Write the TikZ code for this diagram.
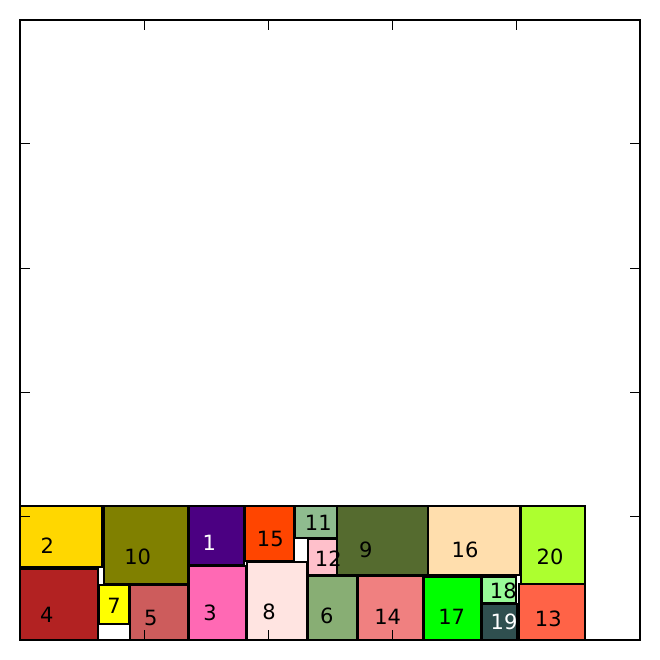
\documentclass[tikz,border=0pt]{standalone}
\usepackage{fontspec}
\setmainfont{DejaVu Sans}
\definecolor{cA}{HTML}{FFD700}
\definecolor{cB}{HTML}{B22222}
\definecolor{cC}{HTML}{808000}
\definecolor{cD}{HTML}{FFFF00}
\definecolor{cE}{HTML}{CD5C5C}
\definecolor{cF}{HTML}{4B0082}
\definecolor{cG}{HTML}{FF69B4}
\definecolor{cH}{HTML}{FF4500}
\definecolor{cI}{HTML}{FFE4E1}
\definecolor{cJ}{HTML}{8FBC8F}
\definecolor{cK}{HTML}{FFC0CB}
\definecolor{cL}{HTML}{88AE74}
\definecolor{cM}{HTML}{556B2F}
\definecolor{cN}{HTML}{F08080}
\definecolor{cO}{HTML}{FFDEAD}
\definecolor{cP}{HTML}{00FF00}
\definecolor{cQ}{HTML}{98FB98}
\definecolor{cR}{HTML}{2F4F4F}
\definecolor{cS}{HTML}{ADFF2F}
\definecolor{cT}{HTML}{FF6347}
\newcommand\rbox[5]{\filldraw[cell,fill=#1] (#2,#3) rectangle (#4,#5);}
\begin{document}
\begin{tikzpicture}[x=1pt,y=-1pt,
  cell/.style={draw=black,line width=1.9pt},
  lab/.style={inner sep=0pt,font=\fontsize{21}{21}\selectfont},
  tick/.style={line width=1pt}]
\useasboundingbox (0,0) rectangle (659,660);
\rbox{cA}{20}{506}{102}{567}
\rbox{cB}{20}{569}{98}{640}
\rbox{cC}{104}{506}{188}{584}
\rbox{cD}{99}{585}{129}{624}
\rbox{cE}{130}{585}{188}{640}
\rbox{cF}{189}{506}{244}{565}
\rbox{cG}{189}{566}{246}{640}
\rbox{cH}{245}{506}{294}{561}
\rbox{cI}{247}{562}{307}{640}
\rbox{cJ}{295}{506}{337}{538}
\rbox{cK}{308}{539}{337}{575}
\rbox{cL}{308}{576}{357}{640}
\rbox{cM}{337}{506}{428}{575}
\rbox{cN}{358}{576}{423}{640}
\rbox{cO}{428}{506}{520}{575}
\rbox{cP}{424}{577}{481}{640}
\rbox{cQ}{482}{577}{516}{603}
\rbox{cR}{482}{604}{517}{640}
\rbox{cS}{521}{506}{585}{584}
\rbox{cT}{519}{584}{585}{640}
% labels
\node[lab] (l2) at (47.3,545.7) {2};
\node[lab] (l10) at (137.7,556.7) {10};
\node[lab] (l4) at (46.7,615) {4};
\node[lab] (l7) at (114,606) {7};
\node[lab] (l5) at (150.7,618.3) {5};
\node[lab,text=white] (l1) at (209.3,542.7) {1};
\node[lab] (l15) at (270.3,539.3) {15};
\node[lab] (l11) at (318.3,522.7) {11};
\node[lab] (l12) at (328.3,558.3) {12};
\node[lab] (l3) at (210,613.3) {3};
\node[lab] (l8) at (269,612.3) {8};
\node[lab] (l6) at (326.7,615.7) {6};
\node[lab] (l9) at (365.7,550) {9};
\node[lab] (l16) at (465,550) {16};
\node[lab] (l14) at (387.7,616.7) {14};
\node[lab] (l17) at (451.7,616.7) {17};
\node[lab] (l18) at (503.3,590.7) {18};
\node[lab,text=white] (l19) at (504,622.3) {19};
\node[lab] (l20) at (550,556.7) {20};
\node[lab] (l13) at (548.3,619) {13};
% frame and ticks
\draw[line width=2pt] (20,20) rectangle (640,640);
\foreach \t in {144,268,392,516}{
  \draw[tick] (\t,20) -- (\t,30);
  \draw[tick] (\t,640) -- (\t,630);
  \draw[tick] (20,\t) -- (30,\t);
  \draw[tick] (640,\t) -- (630,\t);
}
\end{tikzpicture}
\end{document}
